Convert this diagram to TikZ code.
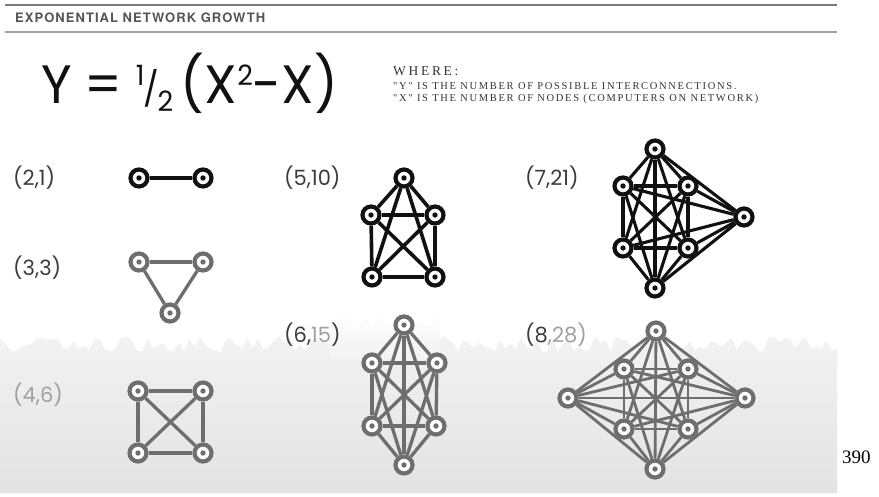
\documentclass[tikz,border=0pt]{standalone}
\usepackage{fontspec}
\setmainfont{Poppins}
\newfontfamily\hdrfont[LetterSpace=8]{TeX Gyre Heros}
\newfontfamily\wherefont[LetterSpace=20]{Liberation Serif}
\newfontfamily\wheresmall[LetterSpace=16]{Liberation Serif}
\newfontfamily\pagefont{Liberation Serif}
\usetikzlibrary{backgrounds}
\pgfdeclarelayer{bottom}
\pgfsetlayers{bottom,background,main}
\definecolor{blk}{HTML}{111111}
\definecolor{gry}{HTML}{6E6E6E}
\definecolor{lbl}{HTML}{3C3C3C}
\definecolor{lbllight}{HTML}{A0A0A0}
\definecolor{rulegray}{HTML}{7A7A7A}
\definecolor{hdrgray}{HTML}{555555}
\definecolor{fog}{HTML}{E3E3E3}
\definecolor{fogtop}{HTML}{F2F2F2}
\newcommand\completegraph[3]{%
  \foreach \i in {1,...,#2}{\foreach \j in {1,...,#2}{%
    \ifnum\i<\j\relax \draw[#3] (#1\i) -- (#1\j);\fi}}}
\tikzset{
  nodebase/.style={circle, fill=white, line width=4.2pt, minimum size=17pt, inner sep=0pt},
  ndk/.style={nodebase, draw=blk, path picture={\fill[blk] (path picture bounding box.center) circle (2.7pt);}},
  ndg/.style={nodebase, draw=gry, path picture={\fill[gry] (path picture bounding box.center) circle (2.7pt);}},
  ek/.style={draw=blk, line width=3.6pt},
  eg/.style={draw=gry, line width=3.3pt},
  lab/.style={anchor=west, inner sep=0pt, font=\fontsize{21}{21}\selectfont, text=lbl},
}
\begin{document}
\begin{tikzpicture}[x=1pt, y=-1pt]
\useasboundingbox (0,0) rectangle (879,496);
% misty forest background
\begin{pgfonlayer}{bottom}
\fill[white] (0,0) rectangle (879,496);
\pgfmathsetseed{7}
\shade[top color=fogtop, bottom color=fog]
  (0,493) -- plot[domain=0:837, samples=160] (\x, {336+16*rnd}) -- (837,493) -- cycle;
\shade[top color=white, bottom color=fogtop]
  (330,360) -- plot[domain=330:440, samples=36] (\x, {308+22*rnd}) -- (440,360) -- cycle;
\end{pgfonlayer}
% header
\draw[rulegray, line width=2pt] (5,5) -- (837,5);
\draw[rulegray!70, line width=1.2pt] (5,32) -- (837,32);
\node[anchor=west, inner sep=0pt, text=hdrgray, font=\hdrfont\bfseries\fontsize{13}{13}\selectfont] (title) at (15,18) {EXPONENTIAL NETWORK GROWTH};
% formula
\node[anchor=base west, inner sep=0pt, text=blk, font=\fontsize{54}{54}\selectfont] (formula) at (41,103)
 {\scalebox{0.97}[1]{Y\hspace{0.25em}=\hspace{0.25em}{\fontsize{28}{28}\selectfont\raisebox{18pt}{1}\hspace{-0.05em}\raisebox{2pt}{\fontsize{34}{34}\selectfont/}\hspace{-0.05em}\raisebox{-8pt}{2}}\hspace{0.15em}(X{\fontsize{28}{28}\selectfont\raisebox{18pt}{2}}-X)}};
\node[anchor=base west, inner sep=0pt, text=blk!85, font=\wherefont\fontsize{13.5}{13.5}\selectfont] (where) at (393,75) {WHERE:};
\node[anchor=base west, inner sep=0pt, text=blk!85, font=\wheresmall\fontsize{10.5}{10.5}\selectfont] (wy) at (393,89) {"Y" IS THE NUMBER OF POSSIBLE INTERCONNECTIONS.};
\node[anchor=base west, inner sep=0pt, text=blk!85, font=\wheresmall\fontsize{10.5}{10.5}\selectfont] (wx) at (393,101) {"X" IS THE NUMBER OF NODES (COMPUTERS ON NETWORK)};
% labels
\node[lab] (l21) at (13,178) {(2,1)};
\node[lab] (l33) at (13,268) {(3,3)};
\node[lab, text=lbllight] (l46) at (13,395) {(4,6)};
\node[lab] (l510) at (284,178) {(5,10)};
\node[lab] (l615) at (284,335) {(6,\textcolor{lbllight}{15})};
\node[lab] (l721) at (525,178) {(7,21)};
\node[lab] (l828) at (525,335) {(8\textcolor{lbllight}{,28)}};
% (2,1)
\node[ndk] (a1) at (139,178) {};
\node[ndk] (a2) at (203,178) {};
% (3,3)
\node[ndg] (b1) at (139,262) {};
\node[ndg] (b2) at (203,262) {};
\node[ndg] (b3) at (170,313) {};
% (4,6)
\node[ndg] (c1) at (138,391) {};
\node[ndg] (c2) at (203,391) {};
\node[ndg] (c3) at (203,453) {};
\node[ndg] (c4) at (138,453) {};
% (5,10)
\node[ndk] (d1) at (404,178) {};
\node[ndk] (d2) at (371,215) {};
\node[ndk] (d3) at (435,215) {};
\node[ndk] (d4) at (372,277) {};
\node[ndk] (d5) at (435,277) {};
% (6,15)
\node[ndg] (e1) at (404,325) {};
\node[ndg] (e2) at (372,363) {};
\node[ndg] (e3) at (437,363) {};
\node[ndg] (e4) at (372,426) {};
\node[ndg] (e5) at (436,426) {};
\node[ndg] (e6) at (404,465) {};
% (7,21)
\node[ndk] (f1) at (655,149) {};
\node[ndk] (f2) at (623,186) {};
\node[ndk] (f3) at (688,186) {};
\node[ndk] (f4) at (744,217) {};
\node[ndk] (f5) at (623,248) {};
\node[ndk] (f6) at (688,248) {};
\node[ndk] (f7) at (655,288) {};
% (8,28)
\node[ndg] (g1) at (656,331) {};
\node[ndg] (g2) at (624,369) {};
\node[ndg] (g3) at (688,369) {};
\node[ndg] (g4) at (568,398) {};
\node[ndg] (g5) at (745,398) {};
\node[ndg] (g6) at (624,429) {};
\node[ndg] (g7) at (688,429) {};
\node[ndg] (g8) at (655,469) {};
\begin{pgfonlayer}{background}
\completegraph{a}{2}{ek}
\completegraph{b}{3}{eg}
\completegraph{c}{4}{eg}
\completegraph{d}{5}{ek}
\completegraph{e}{6}{eg}
\completegraph{f}{7}{ek, line width=3.1pt}
\completegraph{g}{8}{eg, line width=2.8pt}
\end{pgfonlayer}
% page number
\node[anchor=base west, inner sep=0pt, font=\pagefont\fontsize{19}{19}\selectfont] (page) at (842,463) {390};
\end{tikzpicture}
\end{document}
